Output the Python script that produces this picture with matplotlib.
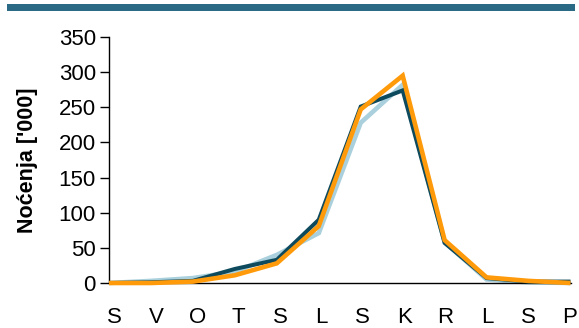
import matplotlib
matplotlib.use("Agg")
import matplotlib.pyplot as plt
from matplotlib.patches import Rectangle

plt.rcParams['font.family'] = ['Liberation Sans', 'DejaVu Sans']

months = ["S", "V", "O", "T", "S", "L", "S", "K", "R", "L", "S", "P"]
series_light = [0, 3, 7, 16, 40, 71, 228, 282, 58, 5, 1, 0]
series_dark = [0, 1, 3, 20, 33, 90, 251, 274, 57, 7, 2, 2]
series_orange = [0, 0, 2, 11, 28, 81, 247, 295, 61, 8, 3, 0]
y_ticks = [0, 50, 100, 150, 200, 250, 300, 350]

fig = plt.figure(figsize=(5.79, 3.28), dpi=100)
fig.patches.append(Rectangle((7 / 579, 1 - 10.5 / 328), 568 / 579, 6.3 / 328,
                             transform=fig.transFigure,
                             facecolor="#2a6a85", edgecolor="none"))

ax = fig.add_axes([109 / 579, 1 - 283 / 328, 461.5 / 579, 246 / 328])
x = list(range(len(months)))
ax.plot(x, series_light, color="#a9d0dc", lw=3.3, solid_joinstyle="miter",
        solid_capstyle="butt", zorder=2, clip_on=False)
ax.plot(x, series_dark, color="#0e4a5d", lw=2.9, solid_joinstyle="miter",
        solid_capstyle="butt", zorder=3, clip_on=False)
ax.plot(x, series_orange, color="#ff9a0a", lw=3.3, solid_joinstyle="miter",
        solid_capstyle="butt", zorder=4, clip_on=False)

ax.set_xlim(0, 11)
ax.set_ylim(0, 350)
ax.set_yticks(y_ticks)
# category labels sit on a slightly narrower grid than the data points
ax.set_xticks([0.131 + 0.9865 * i for i in x])
ax.set_xticklabels(months)
ax.tick_params(axis="y", direction="out", length=6.5, width=1, labelsize=16, pad=3)
ax.tick_params(axis="x", length=0, labelsize=16, pad=17)
ax.spines["top"].set_visible(False)
ax.spines["right"].set_visible(False)
ax.spines["left"].set_linewidth(1)
ax.spines["bottom"].set_linewidth(1)
ax.set_ylabel("Noćenja ['000]", fontsize=15.5, fontweight="bold", labelpad=15)

fig.savefig("out.png", dpi=100)
